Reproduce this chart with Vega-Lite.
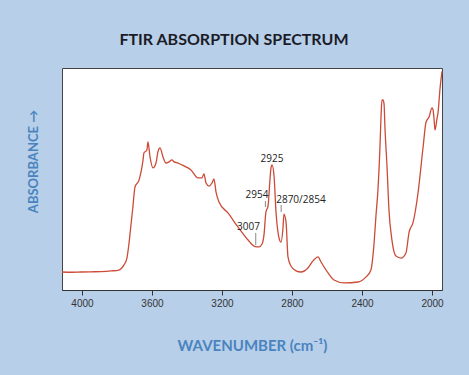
{
  "$schema": "https://vega.github.io/schema/vega-lite/v6.json",
  "autosize": "none",
  "width": 380,
  "height": 222,
  "padding": {"left": 62, "top": 68, "right": 27, "bottom": 85},
  "background": "#b8cfe9",
  "title": {
    "text": "FTIR ABSORPTION SPECTRUM",
    "font": "Lato",
    "fontSize": 16,
    "fontWeight": "bold",
    "color": "#1c1c28",
    "anchor": "middle",
    "dx": -18,
    "offset": 20
  },
  "config": {
    "view": {"fill": "white", "stroke": "#444", "strokeWidth": 1}
  },
  "datasets": {
    "spectrum": [
      {"wn": 4114, "a": 0.081}, {"wn": 4060, "a": 0.080}, {"wn": 4006, "a": 0.081},
      {"wn": 3950, "a": 0.082}, {"wn": 3891, "a": 0.083}, {"wn": 3834, "a": 0.086},
      {"wn": 3789, "a": 0.090}, {"wn": 3760, "a": 0.113}, {"wn": 3743, "a": 0.144},
      {"wn": 3731, "a": 0.212}, {"wn": 3720, "a": 0.293}, {"wn": 3709, "a": 0.374},
      {"wn": 3697, "a": 0.464}, {"wn": 3674, "a": 0.495}, {"wn": 3651, "a": 0.586},
      {"wn": 3646, "a": 0.617}, {"wn": 3629, "a": 0.631}, {"wn": 3623, "a": 0.667},
      {"wn": 3611, "a": 0.599}, {"wn": 3594, "a": 0.550}, {"wn": 3577, "a": 0.572},
      {"wn": 3566, "a": 0.622}, {"wn": 3554, "a": 0.640}, {"wn": 3537, "a": 0.599},
      {"wn": 3520, "a": 0.572}, {"wn": 3503, "a": 0.577}, {"wn": 3486, "a": 0.586},
      {"wn": 3474, "a": 0.577}, {"wn": 3451, "a": 0.572}, {"wn": 3417, "a": 0.559},
      {"wn": 3377, "a": 0.541}, {"wn": 3337, "a": 0.505}, {"wn": 3314, "a": 0.505},
      {"wn": 3303, "a": 0.523}, {"wn": 3291, "a": 0.482}, {"wn": 3274, "a": 0.468},
      {"wn": 3257, "a": 0.482}, {"wn": 3246, "a": 0.500}, {"wn": 3234, "a": 0.441},
      {"wn": 3217, "a": 0.396}, {"wn": 3166, "a": 0.347}, {"wn": 3109, "a": 0.284},
      {"wn": 3051, "a": 0.225}, {"wn": 3017, "a": 0.198}, {"wn": 2989, "a": 0.194},
      {"wn": 2971, "a": 0.207}, {"wn": 2960, "a": 0.248}, {"wn": 2949, "a": 0.351},
      {"wn": 2937, "a": 0.378}, {"wn": 2926, "a": 0.495}, {"wn": 2920, "a": 0.550},
      {"wn": 2914, "a": 0.563}, {"wn": 2903, "a": 0.518}, {"wn": 2891, "a": 0.347},
      {"wn": 2874, "a": 0.234}, {"wn": 2863, "a": 0.216}, {"wn": 2851, "a": 0.284},
      {"wn": 2846, "a": 0.342}, {"wn": 2834, "a": 0.306}, {"wn": 2823, "a": 0.149},
      {"wn": 2806, "a": 0.108}, {"wn": 2777, "a": 0.086}, {"wn": 2749, "a": 0.081},
      {"wn": 2709, "a": 0.099}, {"wn": 2680, "a": 0.131}, {"wn": 2651, "a": 0.149},
      {"wn": 2634, "a": 0.126}, {"wn": 2594, "a": 0.077}, {"wn": 2560, "a": 0.045},
      {"wn": 2503, "a": 0.032}, {"wn": 2423, "a": 0.036}, {"wn": 2377, "a": 0.059},
      {"wn": 2349, "a": 0.090}, {"wn": 2337, "a": 0.158}, {"wn": 2331, "a": 0.212},
      {"wn": 2320, "a": 0.338}, {"wn": 2309, "a": 0.450}, {"wn": 2297, "a": 0.653},
      {"wn": 2291, "a": 0.788}, {"wn": 2286, "a": 0.856}, {"wn": 2280, "a": 0.856},
      {"wn": 2274, "a": 0.838}, {"wn": 2269, "a": 0.734}, {"wn": 2257, "a": 0.554},
      {"wn": 2246, "a": 0.360}, {"wn": 2229, "a": 0.225}, {"wn": 2206, "a": 0.153},
      {"wn": 2177, "a": 0.144}, {"wn": 2149, "a": 0.167}, {"wn": 2131, "a": 0.261},
      {"wn": 2109, "a": 0.302}, {"wn": 2080, "a": 0.437}, {"wn": 2051, "a": 0.644},
      {"wn": 2034, "a": 0.757}, {"wn": 2017, "a": 0.779}, {"wn": 2000, "a": 0.820},
      {"wn": 1994, "a": 0.811}, {"wn": 1989, "a": 0.775}, {"wn": 1983, "a": 0.721},
      {"wn": 1971, "a": 0.775}, {"wn": 1966, "a": 0.797}, {"wn": 1954, "a": 0.910},
      {"wn": 1943, "a": 0.985}
    ],
    "labels": [
      {"label": "2925", "lx": 2914, "ly": 0.577},
      {"label": "2954", "lx": 3000, "ly": 0.414},
      {"label": "2870/2854", "lx": 2749, "ly": 0.392},
      {"label": "3007", "lx": 3049, "ly": 0.270}
    ],
    "ticks": [
      {"wn": 2952, "y1": 0.401, "y2": 0.374},
      {"wn": 2862, "y1": 0.383, "y2": 0.351},
      {"wn": 3007, "y1": 0.257, "y2": 0.203}
    ]
  },
  "layer": [
    {
      "data": {"name": "spectrum"},
      "mark": {"type": "line", "color": "#cc4b37", "strokeWidth": 1.3, "interpolate": "monotone"},
      "encoding": {
        "x": {
          "field": "wn", "type": "quantitative",
          "scale": {"domain": [4114, 1943], "nice": false, "zero": false},
          "axis": {
            "values": [4000, 3800, 3600, 3400, 3200, 3000, 2800, 2600, 2400, 2200, 2000],
            "format": "d",
            "labelExpr": "datum.value % 400 == 0 ? datum.label : ''",
            "grid": false,
            "domainColor": "#333",
            "tickColor": "#333",
            "tickSize": 5,
            "labelFont": "Liberation Sans",
            "labelFontSize": 10,
            "labelColor": "#333",
            "labelPadding": 3,
            "title": "WAVENUMBER (cm⁻¹)",
            "titleFont": "Lato",
            "titleFontSize": 15,
            "titleFontWeight": "bold",
            "titleColor": "#4a84bf",
            "titleX": 190,
            "titleY": 55,
            "titleAlign": "center",
            "titleBaseline": "middle"
          }
        },
        "y": {
          "field": "a", "type": "quantitative",
          "scale": {"domain": [0, 1], "nice": false},
          "axis": {
            "labels": false, "ticks": false, "domain": false, "grid": false,
            "title": "ABSORBANCE →",
            "titleFont": "Lato",
            "titleFontSize": 13,
            "titleFontWeight": "bold",
            "titleColor": "#4a84bf",
            "titleAngle": -90,
            "titleX": -29,
            "titleY": 93,
            "titleAlign": "center",
            "titleBaseline": "middle"
          }
        }
      }
    },
    {
      "data": {"name": "ticks"},
      "mark": {"type": "rule", "color": "#888", "strokeWidth": 1},
      "encoding": {
        "x": {"field": "wn", "type": "quantitative"},
        "y": {"field": "y1", "type": "quantitative"},
        "y2": {"field": "y2"}
      }
    },
    {
      "data": {"name": "labels"},
      "mark": {"type": "text", "font": "Open Sans", "fontSize": 10, "color": "#222", "align": "center", "baseline": "alphabetic"},
      "encoding": {
        "x": {"field": "lx", "type": "quantitative"},
        "y": {"field": "ly", "type": "quantitative"},
        "text": {"field": "label"}
      }
    }
  ]
}
